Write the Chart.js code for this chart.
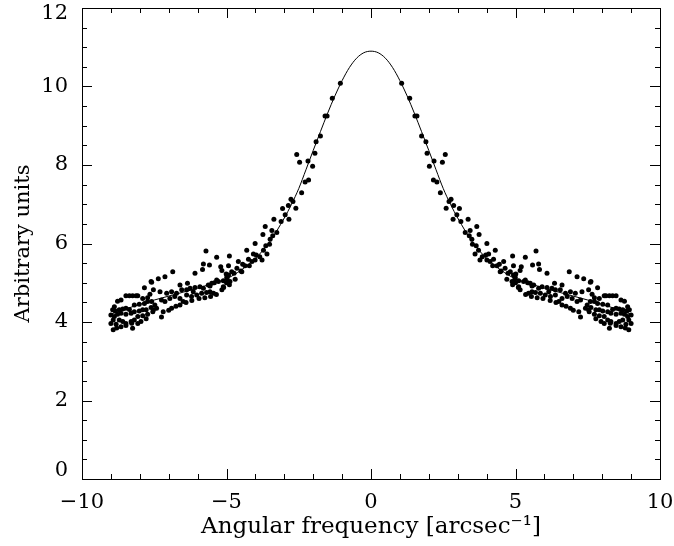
<!DOCTYPE html>
<html>
<head>
<meta charset="utf-8">
<script src="https://cdn.jsdelivr.net/npm/chart.js@4"></script>
<style>
  body { margin: 0; background: #fff; }
  canvas { display: block; }
</style>
</head>
<body>
<canvas id="chart" width="674" height="546"></canvas>
<script>
// measured points, negative frequencies only (the profile is mirrored about 0)
const halfFreq = [
  -1.06, -1.34, -1.52, -1.59, -1.75, -1.90, -1.94, -2.02, -2.18, -2.16, -2.28, -2.40, -2.47, -2.57,
  -2.70, -2.77, -2.60, -2.86, -3.06, -2.84, -3.36, -2.97, -3.11, -3.66, -3.43, -3.26, -3.74, -3.49,
  -3.40, -4.01, -3.51, -3.64, -3.72, -4.30, -4.07, -3.97, -3.85, -3.77, -4.90, -4.24, -4.12, -4.59,
  -4.44, -4.36, -4.64, -4.21, -4.50, -4.93, -4.82, -4.74, -5.01, -5.16, -4.70, -4.98, -5.00, -4.90,
  -5.10, -4.88, -4.47, -4.01, -3.60, -5.16, -5.57,
  -5.71, -5.34, -5.80, -5.59, -6.09, -5.83, -5.20, -6.86, -7.13, -7.36, -7.59, -6.61, -6.35, -4.93,
  -5.34, -5.11, -5.51, -5.57, -6.09,
  -7.53, -7.30, -7.07, -6.90, -6.73, -6.55, -6.38, -6.26, -6.15, -5.92, -5.80, -5.63, -5.42, -5.28, -4.99,
  -7.59, -7.48, -7.25, -7.13, -6.96, -6.79, -6.61, -6.50, -6.38, -6.21, -6.03, -5.86, -5.69, -5.45, -5.11,
  -7.53, -7.42, -7.19, -6.90, -6.61, -7.25, -6.75, -7.00, -6.40, -6.20, -5.95, -5.75, -5.55, -5.35,
  -7.84, -7.61, -8.48, -8.36, -8.25, -8.13, -8.07, -8.77, -8.65, -7.90, -7.73, -7.65,
  -8.88, -8.94, -8.85, -8.71, -8.59, -8.48, -8.36, -8.19, -8.02, -7.84, -7.73,
  -9.00, -8.88, -8.77, -8.65, -8.48, -8.30, -8.19, -8.02, -7.90, -7.78, -7.61,
  -9.00, -8.92, -8.82, -8.71, -8.59, -8.48, -8.30, -8.19, -8.07, -7.90, -7.73, -7.55,
  -8.92, -8.80, -8.65, -8.48, -8.25, -8.07, -7.96, -7.78, -8.28
];
const halfPower = [
  10.08, 9.70, 9.25, 9.25, 8.74, 8.59, 8.30, 7.97, 8.10, 7.62, 7.57, 7.29, 8.07, 8.27,
  7.07, 7.13, 6.90, 6.97, 6.89, 6.62, 6.62, 6.73, 6.56, 6.43, 6.33, 6.28, 6.23, 6.11,
  6.20, 6.00, 5.98, 5.94, 5.83, 5.83, 5.73, 5.71, 5.66, 5.58, 5.68, 5.60, 5.54, 5.54,
  5.47, 5.43, 5.37, 5.43, 5.30, 5.43, 5.28, 5.24, 5.22, 5.31, 5.09, 5.10, 5.00, 4.95,
  4.88, 5.03, 5.28, 5.58, 5.73, 4.82, 4.77,
  5.81, 5.65, 5.48, 5.45, 5.24, 5.34, 5.41, 5.28, 5.15, 5.10, 5.01, 4.94, 4.99, 5.20,
  5.07, 5.05, 4.99, 4.92, 4.88,
  4.82, 4.77, 4.73, 4.77, 4.73, 4.82, 4.82, 4.86, 4.77, 4.90, 4.86, 4.94, 5.00, 5.03, 5.14,
  4.52, 4.43, 4.56, 4.52, 4.60, 4.65, 4.60, 4.52, 4.69, 4.65, 4.69, 4.73, 4.75, 4.73, 4.90,
  4.31, 4.35, 4.26, 4.35, 4.43, 4.13, 4.40, 4.30, 4.50, 4.55, 4.60, 4.62, 4.65, 4.70,
  4.87, 5.03, 4.67, 4.67, 4.67, 4.67, 4.67, 4.53, 4.56, 4.60, 4.62, 4.71,
  4.39, 4.31, 4.28, 4.31, 4.33, 4.35, 4.32, 4.43, 4.45, 4.47, 4.52,
  4.18, 4.14, 4.20, 4.22, 4.20, 4.22, 4.26, 4.28, 4.31, 4.31, 4.37,
  3.96, 4.05, 3.94, 4.05, 4.01, 3.96, 4.01, 4.05, 4.14, 4.16, 4.20, 4.26,
  3.80, 3.85, 3.88, 3.91, 3.84, 3.96, 4.01, 4.08, 3.97
];

// fitted curve
const fitFreq = [-9, -8.5, -8, -7.5, -7, -6.5, -6, -5.5, -5, -4.5, -4, -3.5, -3, -2.75, -2.5, -2.25,
  -2, -1.75, -1.5, -1.25, -1, -0.75, -0.5, -0.25, 0, 0.25, 0.5, 0.75, 1, 1.25, 1.5, 1.75, 2,
  2.25, 2.5, 2.75, 3, 3.5, 4, 4.5, 5, 5.5, 6, 6.5, 7, 7.5, 8, 8.5, 9];
const fitPower = [4.2, 4.33, 4.45, 4.56, 4.66, 4.76, 4.86, 4.98, 5.1, 5.32, 5.62, 6.05, 6.65, 7.0, 7.4, 7.88,
  8.37, 8.85, 9.32, 9.76, 10.15, 10.48, 10.72, 10.86, 10.9, 10.86, 10.72, 10.48, 10.15, 9.76, 9.32, 8.85, 8.37,
  7.88, 7.4, 7.0, 6.65, 6.05, 5.62, 5.32, 5.1, 4.98, 4.86, 4.76, 4.66, 4.56, 4.45, 4.33, 4.2];

const xTickValues = [-10, -5, 0, 5, 10];
const yTickValues = [0, 2, 4, 6, 8, 10, 12];

const points = [];
halfFreq.forEach((f, i) => {
    points.push({ x: f, y: halfPower[i] });
    points.push({ x: -f, y: halfPower[i] });
});
const fitLine = fitFreq.map((f, i) => ({ x: f, y: fitPower[i] }));

const tickFont = { family: 'DejaVu Serif', size: 21 };

// box around the plot with IDL-style inward ticks on every side,
// plus the y labels (the end ones are pulled inside the frame like IDL does)
const frameTicks = {
    id: 'frameTicks',
    afterDraw(chart) {
        const { ctx, chartArea: a, scales: { x, y } } = chart;
        ctx.save();
        ctx.strokeStyle = '#000';
        ctx.lineWidth = 1;
        ctx.strokeRect(Math.round(a.left) + 0.5, Math.round(a.top) + 0.5,
            Math.round(a.right - a.left), Math.round(a.bottom - a.top));
        ctx.beginPath();
        for (let v = -10; v <= 10; v += 1) {
            const px = Math.round(x.getPixelForValue(v)) + 0.5;
            const len = v % 5 === 0 ? 10 : 5;
            ctx.moveTo(px, a.bottom); ctx.lineTo(px, a.bottom - len);
            ctx.moveTo(px, a.top); ctx.lineTo(px, a.top + len);
        }
        for (let v = 0; v <= 12; v += 0.5) {
            const py = Math.round(y.getPixelForValue(v)) + 0.5;
            const len = v % 2 === 0 ? 10 : 5;
            ctx.moveTo(a.left, py); ctx.lineTo(a.left + len, py);
            ctx.moveTo(a.right, py); ctx.lineTo(a.right - len, py);
        }
        ctx.stroke();

        ctx.fillStyle = '#000';
        ctx.font = '21px "DejaVu Serif"';
        ctx.textAlign = 'right';
        ctx.textBaseline = 'middle';
        yTickValues.forEach(v => {
            let py = y.getPixelForValue(v);
            py = Math.min(Math.max(py, a.top + 6), a.bottom - 8);
            ctx.fillText(String(v), a.left - 14, py);
        });
        ctx.restore();
    }
};

new Chart(document.getElementById('chart'), {
    type: 'scatter',
    data: {
        datasets: [{
            data: points,
            pointRadius: 2.5,
            pointBackgroundColor: '#000',
            pointBorderWidth: 0
        }, {
            type: 'line',
            data: fitLine,
            borderColor: '#000',
            borderWidth: 1,
            pointRadius: 0,
            cubicInterpolationMode: 'monotone'
        }]
    },
    options: {
        responsive: false,
        animation: false,
        layout: { padding: { top: 8, right: 14, left: 0, bottom: 0 } },
        plugins: { legend: { display: false }, tooltip: { enabled: false } },
        scales: {
            x: {
                type: 'linear', min: -10, max: 10,
                afterBuildTicks: s => { s.ticks = xTickValues.map(v => ({ value: v })); },
                afterFit: s => { s.height = 67; s.paddingLeft = 0; s.paddingRight = 0; },
                grid: { display: false, drawTicks: false },
                border: { display: false },
                ticks: {
                    color: '#000', font: tickFont, padding: 11, maxRotation: 0, autoSkip: false,
                    callback: v => String(v).replace('-', '\u2212')
                },
                title: {
                    display: true, text: 'Angular frequency [arcsec\u207B\u00B9]',
                    color: '#000', font: { family: 'DejaVu Serif', size: 23 },
                    padding: { top: 0, bottom: 5 }
                }
            },
            y: {
                type: 'linear', min: 0, max: 12,
                afterBuildTicks: s => { s.ticks = yTickValues.map(v => ({ value: v })); },
                afterFit: s => { s.width = 82; s.paddingTop = 0; s.paddingBottom = 0; },
                grid: { display: false, drawTicks: false },
                border: { display: false },
                ticks: { display: false },
                title: {
                    display: true, text: 'Arbitrary units',
                    color: '#000', font: tickFont, padding: { top: 11, bottom: 0 }
                }
            }
        }
    },
    plugins: [frameTicks]
});
</script>
</body>
</html>
